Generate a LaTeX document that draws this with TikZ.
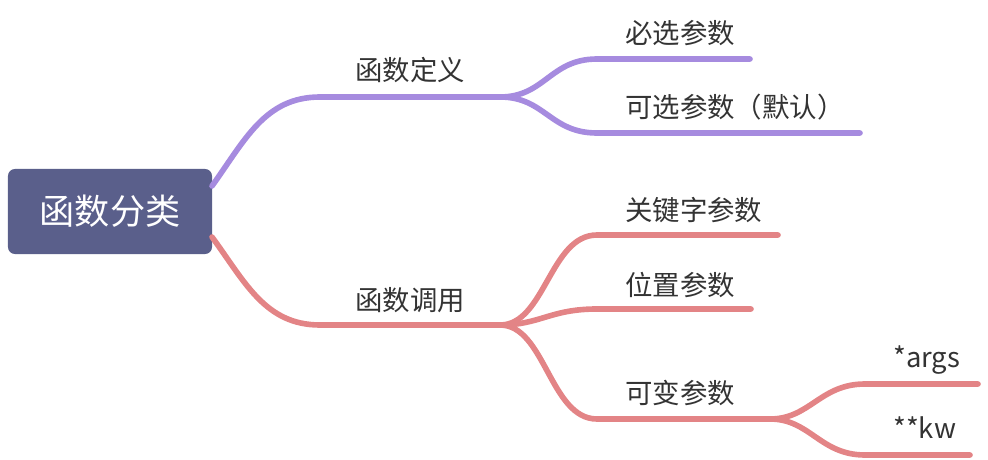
\documentclass[tikz,border=0pt]{standalone}
\usepackage{fontspec}
\newfontfamily\cjk{Noto Sans CJK SC}
\definecolor{rootblue}{HTML}{5A5F8B}
\definecolor{purpline}{HTML}{A68BDF}
\definecolor{redline}{HTML}{E38486}
\definecolor{textgray}{HTML}{333333}
\begin{document}
\begin{tikzpicture}[x=0.025cm, y=-0.025cm,
  lbl/.style={anchor=west, text=textgray, inner sep=0pt,
    font=\cjk\fontsize{19.5}{22}\selectfont},
  purp/.style={draw=purpline, line width=4pt, line cap=round},
  redl/.style={draw=redline, line width=4pt, line cap=round}]
  \useasboundingbox (0,0) rectangle (988,460);
  % root
  \node[fill=rootblue, rounded corners=5pt, minimum width=5.1cm, minimum height=2.125cm,
    text=white, font=\cjk\fontsize{25}{28}\selectfont] (root) at (110,211.5) {函数分类};
  % labels
  \node[lbl] (def) at (355,70) {函数定义};
  \node[lbl] (call) at (355,300) {函数调用};
  \node[lbl] (must) at (625,33) {必选参数};
  \node[lbl] (opt) at (625,107) {可选参数（默认）};
  \node[lbl] (key) at (625,210) {关键字参数};
  \node[lbl] (pos) at (625,285) {位置参数};
  \node[lbl] (var) at (625,393) {可变参数};
  \node[lbl] (args) at (893,360) {*args};
  \node[lbl] (kw) at (893,428) {**kw};
  % line ends
  \coordinate (r1) at (212,186);
  \coordinate (r2) at (212,237);
  \coordinate (d0) at (320,97);
  \coordinate (d1) at (500,97);
  \coordinate (a0) at (597,59);
  \coordinate (a1) at (750,59);
  \coordinate (b0) at (597,133);
  \coordinate (b1) at (860,133);
  \coordinate (c0) at (320,325);
  \coordinate (c1) at (500,325);
  \coordinate (k0) at (597,235);
  \coordinate (k1) at (778,235);
  \coordinate (p0) at (597,309);
  \coordinate (p1) at (751,309);
  \coordinate (v0) at (597,419);
  \coordinate (v1) at (770,419);
  \coordinate (s0) at (865,384);
  \coordinate (s1) at (978,384);
  \coordinate (w0) at (865,455);
  \coordinate (w1) at (970,455);
  % purple branch
  \draw[purp] (r1) .. controls (245,140) and (265,97) .. (d0) -- (d1);
  \draw[purp] (d1) .. controls (545,97) and (550,59) .. (a0) -- (a1);
  \draw[purp] (d1) .. controls (545,97) and (550,133) .. (b0) -- (b1);
  % red branch
  \draw[redl] (r2) .. controls (245,282) and (265,325) .. (c0) -- (c1);
  \draw[redl] (c1) .. controls (545,325) and (550,235) .. (k0) -- (k1);
  \draw[redl] (c1) .. controls (540,325) and (550,309) .. (p0) -- (p1);
  \draw[redl] (c1) .. controls (545,325) and (550,419) .. (v0) -- (v1);
  \draw[redl] (v1) .. controls (810,419) and (820,384) .. (s0) -- (s1);
  \draw[redl] (v1) .. controls (810,419) and (820,455) .. (w0) -- (w1);
\end{tikzpicture}
\end{document}
